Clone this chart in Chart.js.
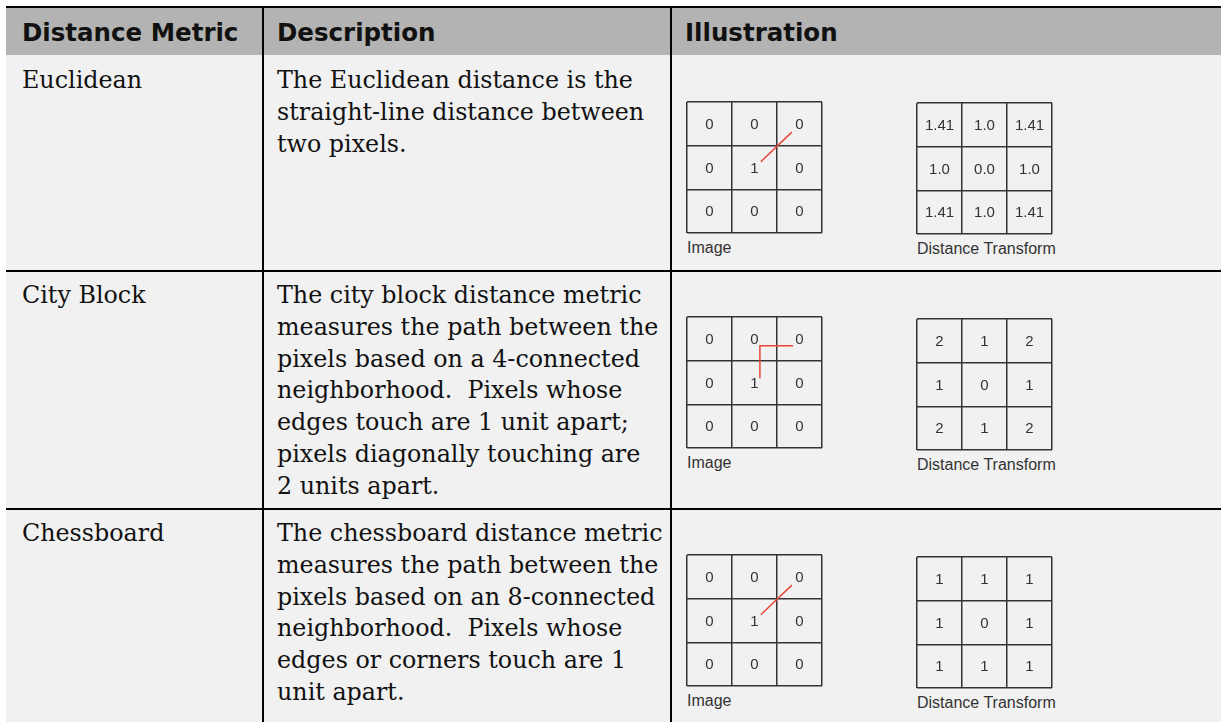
<!DOCTYPE html>
<html>
<head>
<meta charset="utf-8">
<script src="https://cdn.jsdelivr.net/npm/chart.js@4"></script>
<style>
  body { margin: 0; background: #fff; width: 1221px; height: 722px; overflow: hidden; position: relative; }
  .abs { position: absolute; white-space: nowrap; }
  .head { background: #b3b3b3; left: 6px; top: 8px; width: 1215px; height: 47px; }
  .body { background: #f1f1f1; left: 6px; top: 55px; width: 1215px; height: 667px; }
  .hline { background: #000; height: 2px; left: 6px; width: 1215px; }
  .vline { background: #000; width: 2px; top: 8px; height: 714px; }
  .htext { font-family: "DejaVu Sans", sans-serif; font-weight: bold; font-size: 24.5px; line-height: 29px; color: #111; }
  .btext { font-family: "DejaVu Serif", serif; font-size: 23.8px; color: #111; line-height: 31.8px; }
  .cap { font-family: "Liberation Sans", Arial, sans-serif; font-size: 16px; color: #333; }
  canvas { position: absolute; }
</style>
</head>
<body>
<div class="abs body"></div>
<div class="abs head"></div>
<div class="abs hline" style="top:6px"></div>
<div class="abs hline" style="top:270px"></div>
<div class="abs hline" style="top:508px"></div>
<div class="abs vline" style="left:262px"></div>
<div class="abs vline" style="left:670px"></div>
<div id="texts"></div>
<script>
// Table text
const headers = ["Distance Metric", "Description", "Illustration"];
const metrics = ["Euclidean", "City Block", "Chessboard"];
const descriptions = [
  ["The Euclidean distance is the", "straight-line distance between", "two pixels."],
  ["The city block distance metric", "measures the path between the", "pixels based on a 4-connected",
   "neighborhood.  Pixels whose", "edges touch are 1 unit apart;", "pixels diagonally touching are", "2 units apart."],
  ["The chessboard distance metric", "measures the path between the", "pixels based on an 8-connected",
   "neighborhood.  Pixels whose", "edges or corners touch are 1", "unit apart."]
];

// Grid values, rows listed top to bottom
const imageValues = ["0", "0", "0", "0", "1", "0", "0", "0", "0"];
const euclideanDT = ["1.41", "1.0", "1.41", "1.0", "0.0", "1.0", "1.41", "1.0", "1.41"];
const cityBlockDT = ["2", "1", "2", "1", "0", "1", "2", "1", "2"];
const chessboardDT = ["1", "1", "1", "1", "0", "1", "1", "1", "1"];

// Red paths in cell units (x right, y up, 0..3)
const euclideanPath = [{x: 1.64, y: 1.63}, {x: 2.33, y: 2.31}];
const cityBlockPath = [{x: 1.62, y: 1.6}, {x: 1.62, y: 2.34}, {x: 2.36, y: 2.34}];
const chessboardPath = [{x: 1.64, y: 1.63}, {x: 2.33, y: 2.31}];

const textTops = [65, 280, 518];

// write the html text
const box = document.getElementById("texts");
function addText(cls, txt, left, top) {
  const d = document.createElement("div");
  d.className = "abs " + cls;
  d.style.left = left + "px";
  d.style.top = top + "px";
  d.innerHTML = txt;
  box.appendChild(d);
}
addText("htext", headers[0], 22, 18);
addText("htext", headers[1], 277, 18);
addText("htext", headers[2], 685, 18);
metrics.forEach((m, i) => {
  addText("btext", m, 22, textTops[i]);
  addText("btext", descriptions[i].join("<br>").replace(/  /g, "&nbsp; "), 277, textTops[i]);
});

const cellText = {
  id: "cellText",
  afterDatasetsDraw(chart) {
    const vals = chart.options.plugins.cellText.values;
    const {ctx, scales: {x, y}} = chart;
    ctx.save();
    ctx.font = "15px 'Liberation Sans', Arial, sans-serif";
    ctx.fillStyle = "#333";
    ctx.textAlign = "center";
    ctx.textBaseline = "middle";
    vals.forEach((v, i) => {
      const col = i % 3, row = Math.floor(i / 3);
      ctx.fillText(v, x.getPixelForValue(col + 0.5), y.getPixelForValue(2.5 - row) + 1);
    });
    ctx.restore();
  }
};

function makeGrid(left, top, values, path, caption) {
  const c = document.createElement("canvas");
  c.width = 139; c.height = 135;
  c.style.left = (left - 2) + "px";
  c.style.top = (top - 2) + "px";
  document.body.appendChild(c);
  const axis = {
    type: "linear", min: 0, max: 3,
    ticks: {display: false, stepSize: 1},
    grid: {color: "#333", lineWidth: 1.5, drawTicks: false},
    border: {display: false}
  };
  new Chart(c, {
    type: "line",
    data: {
      datasets: [{
        data: path,
        borderColor: "#e8463a",
        borderWidth: 1.5,
        pointRadius: 0
      }]
    },
    options: {
      responsive: false,
      animation: false,
      layout: {padding: 2},
      scales: {x: axis, y: axis},
      plugins: {legend: {display: false}, tooltip: {enabled: false}, cellText: {values: values}}
    },
    plugins: [cellText]
  });
  addText("cap", caption, left, top + 137);
}

const imgLeft = 687, dtLeft = 917;
const imgTops = [102, 317, 555];
const dtTops = [103, 319, 557];
const dtValues = [euclideanDT, cityBlockDT, chessboardDT];
const paths = [euclideanPath, cityBlockPath, chessboardPath];
for (let i = 0; i < 3; i++) {
  makeGrid(imgLeft, imgTops[i], imageValues, paths[i], "Image");
  makeGrid(dtLeft, dtTops[i], dtValues[i], [], "Distance Transform");
}
</script>
</body>
</html>
